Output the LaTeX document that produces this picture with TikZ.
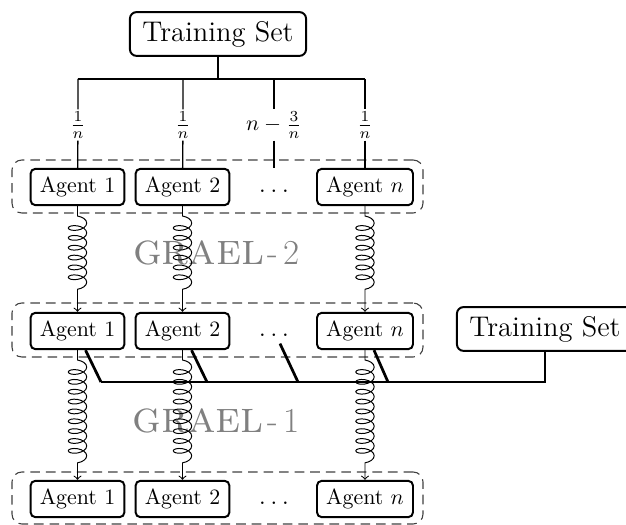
\documentclass[tikz,border=0pt]{standalone}
\usetikzlibrary{calc,fit,decorations.pathmorphing}
\begin{document}
\begin{tikzpicture}[x=0.4566pt,y=-0.4566pt,
  agentbox/.style={draw,line width=0.9pt,rounded corners=2.2pt,inner xsep=4.2pt,
    minimum height=16.6pt,text height=7pt,text depth=2pt},
  dotsbox/.style={inner xsep=2pt,minimum height=16.6pt,text height=7pt,text depth=2pt,
    font=\large},
  setbox/.style={draw,line width=0.9pt,rounded corners=3pt,minimum width=80.4pt,
    minimum height=20pt,font=\fontsize{13}{15}\selectfont},
  groupbox/.style={draw=black!75,line width=0.5pt,dash pattern=on 4.4pt off 2.7pt,
    rounded corners=4.5pt,inner sep=0pt},
  share/.style={inner sep=1pt,font=\normalsize},
  branch/.style={line width=0.6pt},
  feed/.style={line width=1.25pt},
  spring/.style={->,line width=0.45pt,decorate,
    decoration={coil,amplitude=4.2pt,segment length=4.5pt,pre length=4.5pt,post length=6pt}},
  levelname/.style={text=black!50,anchor=base,inner sep=0pt}]
\useasboundingbox (0,0) rectangle (626,525);

% level labels sit behind the springs
\newcommand\levelmark[1]{{\fontsize{20.5}{24}\selectfont\textsc{grael}}\kern1.5pt
  {\fontsize{16}{18}\selectfont-\kern2.5pt#1}}
\node[levelname] (lv2) at (216.5,265) {\levelmark{2}};
\node[levelname] (lv1) at (216,433) {\levelmark{1}};

% the shared training set and its split over the agents
\node[setbox] (ts1) at (218,34) {Training Set};
\coordinate (bar) at (218,79);
\coordinate (b1) at (78,79);
\coordinate (b2) at (183,79);
\coordinate (b3) at (274,79);
\coordinate (b4) at (365,79);
\draw[line width=0.9pt] (ts1.south) -- (bar);
\draw[branch] (b1) -- (b4);

% three rows of agents
\foreach \r/\y in {1/187,2/331,3/499}{
  \node[agentbox] (a\r1) at (77.5,\y) {Agent 1};
  \node[agentbox] (a\r2) at (182.5,\y) {Agent 2};
  \node[dotsbox] (d\r) at (274,\y) {$\ldots$};
  \node[agentbox] (a\r n) at (365,\y) {Agent $n$};
}

% dashed frames around each row
\node[groupbox,fit={(12,160) (423,213)}] (g1) {};
\node[groupbox,fit={(12,303) (423,357)}] (g2) {};
\node[groupbox,fit={(12,472) (423,524)}] (g3) {};

% shares of the training set
\node[share] (l1) at (78,125) {$\frac{1}{n}$};
\node[share] (l2) at (183,125) {$\frac{1}{n}$};
\node[share] (l3) at (274,125) {$n-\frac{3}{n}$};
\node[share] (l4) at (365,125) {$\frac{1}{n}$};
\draw[branch] (b1) -- (l1) (l1) -- (a11);
\draw[branch] (b2) -- (l2) (l2) -- (a12);
\draw[branch] (b3) -- (l3) (l3) -- (d1.north);
\draw[branch] (b4) -- (l4) (l4) -- (a1n);

% springs between the levels
\foreach \c in {1,2,n}{
  \draw[spring] (a1\c.south) -- (a2\c.north);
  \draw[spring] (a2\c.south) -- (a3\c.north);
}

% second training set feeding the middle row
\node[setbox] (ts2) at (545,329) {Training Set};
\coordinate (f1) at (101,382);
\coordinate (f2) at (207,382);
\coordinate (f3) at (298,382);
\coordinate (f4) at (388,382);
\draw[feed] (ts2.south) |- (f1);
\draw[feed] ($(a21.south)+(8,0)$) -- (f1);
\draw[feed] ($(a22.south)+(9,0)$) -- (f2);
\draw[feed] ($(d2.south)+(6,-6)$) -- (f3);
\draw[feed] ($(a2n.south)+(9,0)$) -- (f4);
\end{tikzpicture}
\end{document}
